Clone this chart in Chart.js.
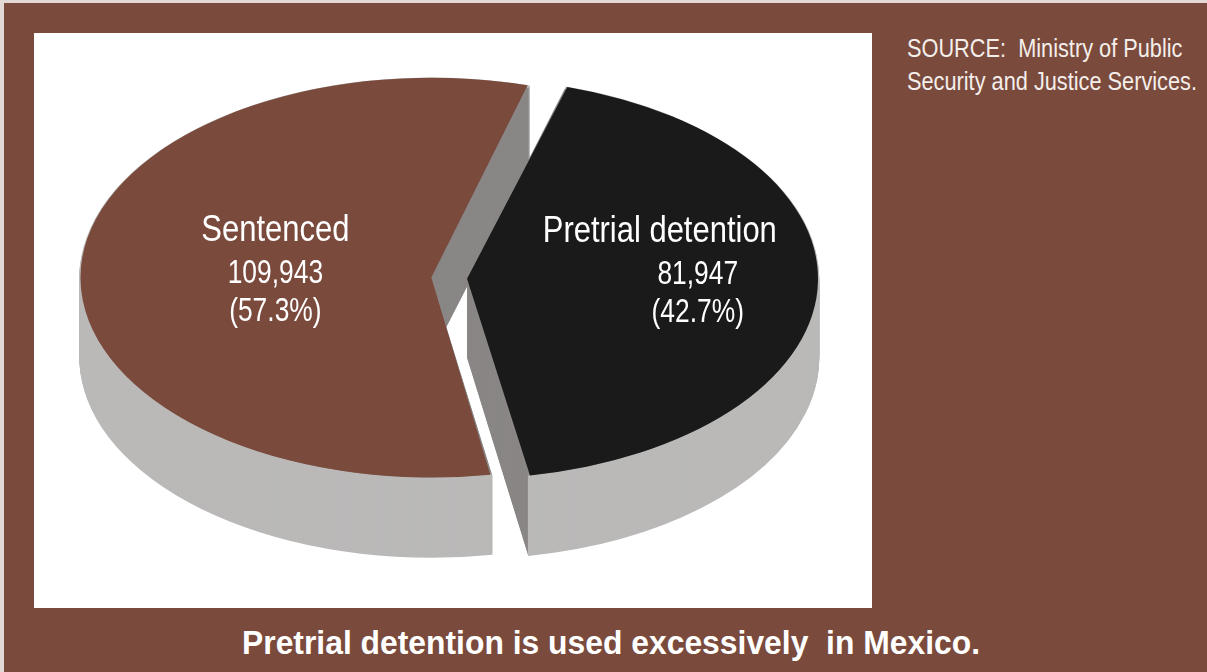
<!DOCTYPE html>
<html>
<head>
<meta charset="utf-8">
<title>Pretrial detention in Mexico</title>
<script src="https://cdn.jsdelivr.net/npm/chart.js@4.4.0/dist/chart.umd.min.js"></script>
<style>
  html, body { margin: 0; padding: 0; width: 1207px; height: 672px; overflow: hidden; background: #e2d9d6; }
  #frame { position: absolute; left: 4px; top: 3px; width: 1203px; height: 669px; background: #7a4a3c; }
  #chartBox { position: absolute; left: 34px; top: 33px; width: 838px; height: 575px; background: #fff; }
  #source {
    position: absolute; left: 907px; top: 32px; color: #f4eeeb;
    font: 25px "Liberation Sans", Arial, sans-serif;
    line-height: 33px; white-space: pre; transform-origin: left top;
  }
  #title {
    position: absolute; left: 242px; top: 625px; color: #fff;
    font: bold 34px "Liberation Sans", Arial, sans-serif;
    line-height: 34px; white-space: pre; transform-origin: left top;
  }
</style>
</head>
<body>
<div id="frame"></div>
<div id="chartBox"><canvas id="prisonChart" width="838" height="575"></canvas></div>
<div id="source">SOURCE:  Ministry of Public
Security and Justice Services.</div>
<div id="title">Pretrial detention is used excessively  in Mexico.</div>

<script>
// data
const categories = ['Sentenced', 'Pretrial detention'];
const inmates = [109943, 81947];
const sliceColors = ['#7a4a3c', '#1a1a1a'];

// tilted view of the pie (canvas px)
const VIEW = { cx: 410, cy: 245, rx: 351, ry: 200, depth: 79 };
const WALL = '#bab9b8';
const CUT = '#8a8786';
// label placement: fraction of radius along the slice middle, extra x shift for the numbers
const LABEL_R = [0.445, 0.55];
const NUM_DX = [0, 38];
const LINE_DY = [-37, 5, 43];
// the original uses a condensed face, so squeeze Liberation Sans sideways
const NAME_FONT = '36px "Liberation Sans", Arial, sans-serif';
const NUM_FONT = '33px "Liberation Sans", Arial, sans-serif';
const NAME_SQUEEZE = 0.86;
const NUM_SQUEEZE = 0.8;

const total = inmates.reduce((a, b) => a + b, 0);

// fit the html captions to the width they have in the original
function fitWidth(id, target) {
  const el = document.getElementById(id);
  const w = el.getBoundingClientRect().width;
  el.style.transform = 'scaleX(' + (target / w) + ')';
}
fitWidth('source', 290);
fitWidth('title', 738);

// same geometry the arc element uses when it draws itself (offset / 4 in v4)
function sliceGeom(arc) {
  const off = (arc.options.offset || 0) / 4;
  const mid = (arc.startAngle + arc.endAngle) / 2;
  const circ = arc.endAngle - arc.startAngle;
  const fix = 1 - Math.sin(Math.min(Math.PI, circ));
  return {
    x: arc.x + Math.cos(mid) * off,
    y: arc.y + Math.sin(mid) * off,
    r: arc.outerRadius + off * fix,
    s: arc.startAngle,
    e: arc.endAngle,
    mid: mid
  };
}

function viewScale(geo) {
  const base = Math.max(...geo.map(g => g.r));
  return { sx: VIEW.rx / base, sy: VIEW.ry / base };
}

function squeezedText(ctx, text, x, y, squeeze) {
  ctx.save();
  ctx.translate(x, y);
  ctx.scale(squeeze, 1);
  ctx.fillText(text, 0, 0);
  ctx.restore();
}

// extrudes the pie downwards, then squashes the top faces the library draws
const pie3d = {
  id: 'pie3d',
  beforeDatasetsDraw(chart) {
    const ctx = chart.ctx;
    const arcs = chart.getDatasetMeta(0).data;
    const geo = arcs.map(sliceGeom);
    const { sx, sy } = viewScale(geo);
    const cx0 = arcs[0].x, cy0 = arcs[0].y;

    for (let k = VIEW.depth; k >= 1; k--) {
      geo.forEach(g => {
        ctx.save();
        ctx.translate(VIEW.cx, VIEW.cy + k);
        ctx.scale(sx, sy);
        ctx.translate(-cx0, -cy0);
        ctx.beginPath();
        ctx.moveTo(g.x, g.y);
        ctx.arc(g.x, g.y, g.r, g.s, g.e);
        ctx.closePath();
        ctx.fillStyle = CUT;
        ctx.fill();
        ctx.beginPath();
        ctx.arc(g.x, g.y, g.r, g.s, g.e);
        ctx.restore();
        ctx.lineWidth = 2.5;
        ctx.strokeStyle = WALL;
        ctx.stroke();
      });
    }

    ctx.save();
    ctx.translate(VIEW.cx, VIEW.cy);
    ctx.scale(sx, sy);
    ctx.translate(-cx0, -cy0);
  },
  afterDatasetsDraw(chart) {
    const ctx = chart.ctx;
    ctx.restore();

    const arcs = chart.getDatasetMeta(0).data;
    const geo = arcs.map(sliceGeom);
    const { sx, sy } = viewScale(geo);
    const cx0 = arcs[0].x, cy0 = arcs[0].y;

    ctx.save();
    ctx.fillStyle = '#fff';
    ctx.textAlign = 'center';
    ctx.textBaseline = 'alphabetic';
    geo.forEach((g, i) => {
      const px = VIEW.cx + (g.x - cx0) * sx + Math.cos(g.mid) * LABEL_R[i] * VIEW.rx;
      const py = VIEW.cy + (g.y - cy0) * sy;
      const pct = (inmates[i] / total * 100).toFixed(1);
      ctx.font = NAME_FONT;
      squeezedText(ctx, categories[i], px, py + LINE_DY[0], NAME_SQUEEZE);
      ctx.font = NUM_FONT;
      squeezedText(ctx, inmates[i].toLocaleString('en-US'), px + NUM_DX[i], py + LINE_DY[1], NUM_SQUEEZE);
      squeezedText(ctx, '(' + pct + '%)', px + NUM_DX[i], py + LINE_DY[2], NUM_SQUEEZE);
    });
    ctx.restore();
  }
};

const ctx = document.getElementById('prisonChart').getContext('2d');
new Chart(ctx, {
  type: 'pie',
  data: {
    labels: categories,
    datasets: [{
      data: inmates,
      backgroundColor: sliceColors,
      borderWidth: 0,
      offset: [38, 69]
    }]
  },
  options: {
    responsive: false,
    animation: false,
    rotation: 170,
    plugins: {
      legend: { display: false },
      tooltip: { enabled: false }
    }
  },
  plugins: [pie3d]
});
</script>
</body>
</html>
